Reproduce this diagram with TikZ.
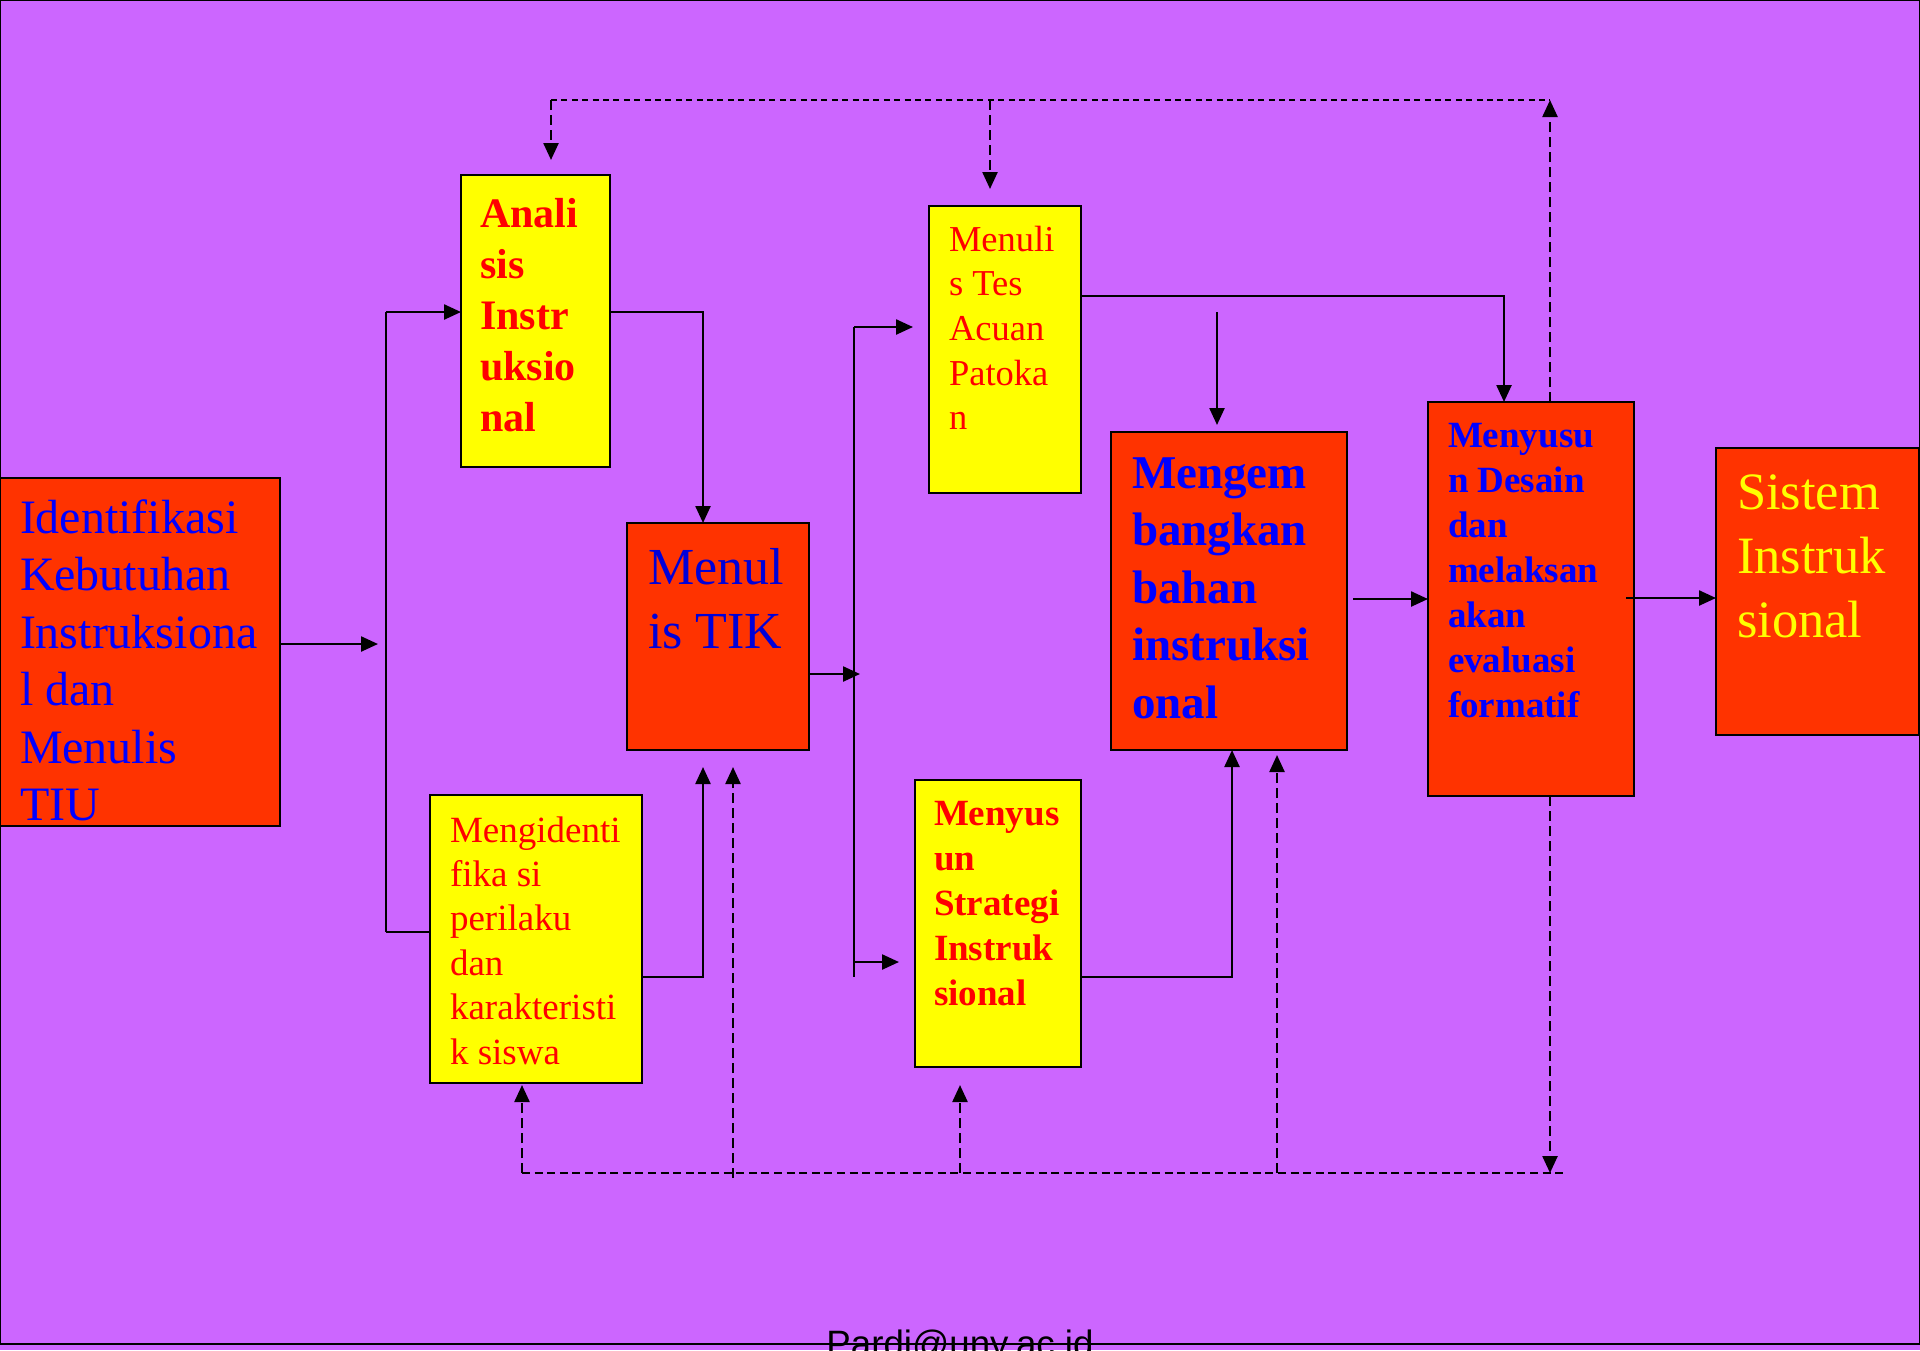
\documentclass[tikz,border=0pt]{standalone}
\usepackage{fontspec}
\setmainfont{Liberation Serif}
\newfontfamily\mailfont{Liberation Sans}
\usepackage{tikz}
\usetikzlibrary{positioning, arrows.meta}

\definecolor{bgpurple}{HTML}{CC66FF}
\definecolor{boxred}{HTML}{FF3300}
\definecolor{boxyellow}{HTML}{FFFF00}
\definecolor{txtblue}{HTML}{0000FF}

\tikzset{
    redbox/.style={draw, fill=boxred, line width=1.1pt, anchor=north west, inner ysep=0pt, outer sep=0pt, align=flush left},
    yellowbox/.style={draw, fill=boxyellow, line width=1.1pt, anchor=north west, inner ysep=0pt, outer sep=0pt, align=flush left},
    fb/.style={dash pattern=on 5pt off 2.5pt},
    fbtop/.style={dash pattern=on 3pt off 2.2pt},
    fbbot/.style={dash pattern=on 4pt off 2.3pt},
}

\begin{document}
\begin{tikzpicture}[x=0.5pt, y=-0.5pt, line width=1.2pt, >={Triangle[length=8.5pt, width=7.5pt]}]
                \useasboundingbox (0,0) rectangle (1920,1350);
                \fill[bgpurple] (0,0) rectangle (1920,1350);

                % boxes
                \node[redbox, text=txtblue, inner xsep=10pt, text width=120pt, text height=27.5pt, text depth=146.5pt,
                      font=\fontsize{24}{28.75}\selectfont] (ident) at (0,478)
                      {Identifikasi\\Kebutuhan\\Instruksiona\\l dan\\Menulis\\TIU};
                \node[yellowbox, text=red, inner xsep=9.5pt, text width=55.5pt, text height=26pt, text depth=120pt,
                      font=\bfseries\fontsize{21}{25.5}\selectfont] (ana) at (461,175)
                      {Anali\\sis\\Instr\\uksio\\nal};
                \node[redbox, text=txtblue!85!black, inner xsep=10.5pt, text width=70pt, text height=30.5pt, text depth=83pt,
                      font=\fontsize{26}{32}\selectfont] (tik) at (627,523)
                      {Menul\\is TIK};
                \node[yellowbox, text=red, inner xsep=10pt, text width=86pt, text height=23.5pt, text depth=120.5pt,
                      font=\fontsize{18.5}{22.2}\selectfont] (mengid) at (430,795)
                      {Mengidenti\\fika si\\perilaku\\dan\\karakteristi\\k siswa};
                \node[yellowbox, text=red, inner xsep=10pt, text width=56pt, text height=22.5pt, text depth=121pt,
                      font=\fontsize{18.25}{22.35}\selectfont] (tes) at (929,206)
                      {Menuli\\s Tes\\Acuan\\Patoka\\n};
                \node[yellowbox, text=red, inner xsep=9.5pt, text width=64pt, text height=22.5pt, text depth=121pt,
                      font=\bfseries\fontsize{18.5}{22.5}\selectfont] (strat) at (915,780)
                      {Menyus\\un\\Strategi\\Instruk\\sional};
                \node[redbox, text=txtblue, inner xsep=10.5pt, text width=97pt, text height=28pt, text depth=131pt,
                      font=\bfseries\fontsize{23.5}{28.75}\selectfont] (bahan) at (1111,432)
                      {Mengem\\bangkan\\bahan\\instruksi\\onal};
                \node[redbox, text=txtblue, inner xsep=10pt, text width=83pt, text height=22.5pt, text depth=174.5pt,
                      font=\bfseries\fontsize{18.5}{22.5}\selectfont] (desain) at (1428,402)
                      {Menyusu\\n Desain\\dan\\melaksan\\akan\\evaluasi\\formatif};
                \node[redbox, text=boxyellow, inner xsep=10.5pt, text width=80.5pt, text height=30.5pt, text depth=113pt,
                      font=\fontsize{26.25}{32}\selectfont] (sistem) at (1716,448)
                      {Sistem\\Instruk\\sional};

                % junction points
                \coordinate (s1) at (378,644);
                \coordinate (b1t) at (386,312);
                \coordinate (b1b) at (386,932);
                \coordinate (c1) at (703,312);
                \coordinate (c2) at (703,977);
                \coordinate (c2t) at (703,767);
                \coordinate (s2) at (860,674);
                \coordinate (b2t) at (854,327);
                \coordinate (b2b) at (854,977);
                \coordinate (t1) at (913,327);
                \coordinate (t2) at (899,962);
                \coordinate (c3) at (1504,296);
                \coordinate (f1) at (1217,312);
                \coordinate (f2) at (1217,425);
                \coordinate (c4) at (1232,977);
                \coordinate (s3) at (1353,599);
                \coordinate (s4) at (1626,598);

                \draw[->] (ident.east |- s1) -- (s1);
                \draw (b1t) -- (b1b);
                \draw[->] (b1t) -- (ana.west |- b1t);
                \draw (b1b) -- (mengid.west |- b1b);
                \draw[->] (ana.east |- c1) -- (c1) -- (c1 |- tik.north);
                \draw[->] (mengid.east |- c2) -- (c2) -- (c2t);
                \draw[->] (tik.east |- s2) -- (s2);
                \draw (b2t) -- (b2b);
                \draw[->] (b2t) -- (t1);
                \draw[->] (b2b |- t2) -- (t2);
                \draw[->] (tes.east |- c3) -- (c3) -- (c3 |- desain.north);
                \draw[->] (f1) -- (f2);
                \draw[->] (strat.east |- c4) -- (c4) -- (c4 |- bahan.south);
                \draw[->] (s3) -- (desain.west |- s3);
                \draw[->] (s4) -- (sistem.west |- s4);

                % feedback lines
                \coordinate (d1) at (551,100);
                \coordinate (d1e) at (551,160);
                \coordinate (d2) at (990,100);
                \coordinate (d2e) at (990,189);
                \coordinate (d3) at (1550,100);
                \coordinate (e1) at (522,1173);
                \coordinate (e1e) at (522,1085);
                \coordinate (e2) at (733,1178);
                \coordinate (e2e) at (733,767);
                \coordinate (e3) at (960,1173);
                \coordinate (e3e) at (960,1085);
                \coordinate (e4) at (1277,1173);
                \coordinate (e4e) at (1277,755);
                \coordinate (e5) at (1564,1173);

                \draw[fbtop] (d1) -- (d3);
                \draw[fb, ->] (d1) -- (d1e);
                \draw[fb, ->] (d2) -- (d2e);
                \draw[fb, ->] (d3 |- desain.north) -- (d3);
                \draw[fbbot] (e1) -- (e5);
                \draw[fb, ->] (e1) -- (e1e);
                \draw[fb, ->] (e2) -- (e2e);
                \draw[fb, ->] (e3) -- (e3e);
                \draw[fb, ->] (e4) -- (e4e);
                \draw[fb, ->] (d3 |- desain.south) -- (d3 |- e1);

                \node[font=\mailfont\fontsize{18.35}{22}\selectfont, anchor=base] (mail) at (960,1356) {Pardi@uny.ac.id};
                \draw[line width=0.6pt] (0.6,0.6) rectangle (1919.4,1344);
            \end{tikzpicture}
\end{document}
